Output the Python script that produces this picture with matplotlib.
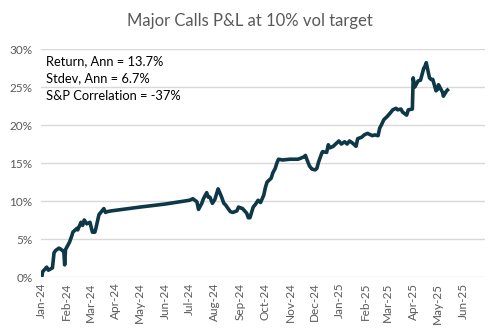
import pandas as pd
import matplotlib.pyplot as plt
import matplotlib.dates as mdates
from matplotlib.ticker import PercentFormatter

plt.rcParams['font.family'] = ['Lato', 'DejaVu Sans']

# P&L path (cumulative, in %)
dates = [
    '2024-01-02', '2024-01-03', '2024-01-08', '2024-01-10', '2024-01-15', '2024-01-17',
    '2024-01-19', '2024-01-23', '2024-01-26', '2024-01-29', '2024-01-30', '2024-01-31',
    '2024-02-02', '2024-02-05', '2024-02-08', '2024-02-09', '2024-02-14', '2024-02-15',
    '2024-02-19', '2024-02-21', '2024-02-23', '2024-02-26', '2024-03-01', '2024-03-04',
    '2024-03-07', '2024-03-08', '2024-03-12', '2024-03-15', '2024-03-18', '2024-03-20',
    '2024-03-22', '2024-03-27', '2024-05-01', '2024-06-01', '2024-07-01', '2024-07-05',
    '2024-07-10', '2024-07-12', '2024-07-16', '2024-07-18', '2024-07-22', '2024-07-24',
    '2024-07-26', '2024-07-29', '2024-08-01', '2024-08-05', '2024-08-09', '2024-08-12',
    '2024-08-14', '2024-08-16', '2024-08-20', '2024-08-23', '2024-08-28', '2024-08-30',
    '2024-09-04', '2024-09-09', '2024-09-11', '2024-09-13', '2024-09-17', '2024-09-20',
    '2024-09-23', '2024-09-26', '2024-09-30', '2024-10-02', '2024-10-04', '2024-10-09',
    '2024-10-11', '2024-10-14', '2024-10-16', '2024-10-18', '2024-10-23', '2024-11-01',
    '2024-11-11', '2024-11-18', '2024-11-20', '2024-11-22', '2024-11-25', '2024-11-28',
    '2024-12-02', '2024-12-04', '2024-12-06', '2024-12-10', '2024-12-11', '2024-12-16',
    '2024-12-18', '2024-12-20', '2024-12-24', '2024-12-27', '2024-12-31', '2025-01-03',
    '2025-01-07', '2025-01-10', '2025-01-13', '2025-01-17', '2025-01-21', '2025-01-23',
    '2025-01-28', '2025-01-31', '2025-02-04', '2025-02-10', '2025-02-13', '2025-02-17',
    '2025-02-19', '2025-02-21', '2025-02-24', '2025-02-28', '2025-03-04', '2025-03-07',
    '2025-03-11', '2025-03-13', '2025-03-17', '2025-03-19', '2025-03-24', '2025-03-26',
    '2025-03-31', '2025-04-01', '2025-04-03', '2025-04-07', '2025-04-10', '2025-04-14',
    '2025-04-15', '2025-04-17', '2025-04-21', '2025-04-23', '2025-04-25', '2025-04-29',
    '2025-05-01', '2025-05-02', '2025-05-05', '2025-05-07', '2025-05-08', '2025-05-12',
    '2025-05-13',
]
pnl = [
    0.0, 0.7, 1.3, 0.9, 1.2, 3.2,
    3.5, 3.8, 3.6, 3.3, 1.6, 3.6,
    4.0, 4.6, 5.5, 5.9, 6.4, 6.2,
    7.2, 6.8, 7.5, 7.0, 7.2, 5.9,
    5.9, 6.3, 8.2, 8.6, 9.0, 8.5,
    8.6, 8.7, 9.2, 9.6, 10.1, 10.3,
    9.9, 8.9, 9.7, 10.3, 11.1, 10.5,
    10.5, 9.7, 10.2, 11.6, 10.6, 9.7,
    9.5, 9.2, 8.6, 8.5, 8.7, 9.2,
    9.0, 8.4, 7.8, 7.8, 9.2, 9.6,
    10.1, 9.8, 10.8, 11.8, 12.5, 13.0,
    13.7, 14.3, 15.0, 15.5, 15.4, 15.5,
    15.5, 15.8, 16.0, 15.4, 14.6, 14.2,
    14.1, 14.3, 15.1, 16.3, 16.5, 16.4,
    17.4, 17.0, 17.2, 17.5, 17.9, 17.5,
    17.8, 17.5, 17.9, 17.6, 17.2, 18.2,
    18.4, 18.7, 18.9, 18.6, 18.7, 18.6,
    19.6, 20.0, 20.7, 21.1, 21.6, 22.0,
    22.2, 22.0, 22.1, 21.7, 21.3, 22.0,
    22.1, 26.2, 25.0, 25.8, 25.9, 27.5,
    27.6, 28.2, 26.2, 26.0, 26.0, 24.5,
    24.7, 25.3, 24.7, 24.3, 23.8, 24.5,
    24.6,
]
stats_text = ['Return, Ann = 13.7%', 'Stdev, Ann = 6.7%', 'S&P Correlation = -37%']

x = pd.to_datetime(dates)

fig = plt.figure(figsize=(5.0, 3.29), dpi=100)
ax = fig.add_axes([0.082, 0.158, 0.888, 0.693])

ax.plot(x, pnl, color='#0E3847', lw=2.6, solid_joinstyle='round')

ax.set_xlim(pd.Timestamp('2024-01-01'), pd.Timestamp('2025-06-28'))
ax.set_ylim(0, 30)
ax.set_yticks(range(0, 31, 5))
ax.yaxis.set_major_formatter(PercentFormatter(decimals=0))
ax.xaxis.set_major_locator(mdates.MonthLocator())
ax.xaxis.set_major_formatter(mdates.DateFormatter('%b-%y'))

ax.grid(axis='y', color='#D9D9D9', lw=1)
ax.set_axisbelow(True)
for s in ax.spines.values():
    s.set_visible(False)
ax.tick_params(length=0, colors='#595959', labelsize=8.5)
ax.tick_params(axis='x', rotation=90, pad=4)
ax.tick_params(axis='y', pad=6)

fig.text(0.5, 0.935, 'Major Calls P&L at 10% vol target', ha='center', va='center',
         fontsize=12, color='#595959')

for i, t in enumerate(stats_text):
    fig.text(0.092, 0.815 - i * 0.054, t, fontsize=9.3, color='black', va='center')

fig.savefig('out.png', dpi=100)
